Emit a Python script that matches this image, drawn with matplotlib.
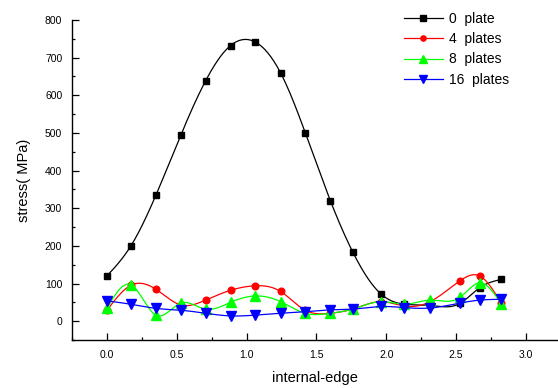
import matplotlib
matplotlib.use("Agg")
import matplotlib.pyplot as plt
import numpy as np
from matplotlib.ticker import MultipleLocator

plt.rcParams.update({"font.family": ["Liberation Sans", "DejaVu Sans"]})

pos = [0.0, 0.17, 0.35, 0.53, 0.706, 0.885, 1.06, 1.243, 1.42, 1.6, 1.76,
       1.966, 2.13, 2.315, 2.527, 2.67, 2.825]
plate0 = [120, 199, 334, 495, 638, 732, 742, 660, 501, 320, 184, 71, 45, 42, 47, 89, 111]
plate4 = [29, 95, 85, 43, 56, 82, 94, 79, 29, 21, 32, 52, 40, 52, 107, 120, 47]
plate8 = [34, 97, 16, 48, 32, 50, 67, 52, 21, 21, 32, 52, 45, 56, 63, 102, 45]
plate16 = [54, 45, 34, 29, 21, 14, 16, 21, 25, 30, 32, 39, 36, 35, 48, 56, 58]
labels = ["0  plate", "4  plates", "8  plates", "16  plates"]


def smooth(x, y, n=400):
    # natural cubic spline through the measured points (Origin-style line)
    x = np.asarray(x, float); y = np.asarray(y, float)
    h = np.diff(x); m = len(x)
    A = np.zeros((m, m)); r = np.zeros(m)
    A[0, 0] = A[-1, -1] = 1
    for i in range(1, m - 1):
        A[i, i - 1] = h[i - 1]; A[i, i] = 2 * (h[i - 1] + h[i]); A[i, i + 1] = h[i]
        r[i] = 6 * ((y[i + 1] - y[i]) / h[i] - (y[i] - y[i - 1]) / h[i - 1])
    M = np.linalg.solve(A, r)
    xs = np.linspace(x[0], x[-1], n)
    k = np.clip(np.searchsorted(x, xs) - 1, 0, m - 2)
    t0 = x[k + 1] - xs; t1 = xs - x[k]
    ys = (M[k] * t0 ** 3 + M[k + 1] * t1 ** 3) / (6 * h[k]) \
        + (y[k] / h[k] - M[k] * h[k] / 6) * t0 + (y[k + 1] / h[k] - M[k + 1] * h[k] / 6) * t1
    return xs, ys


fig = plt.figure(figsize=(5.58, 3.88), dpi=100)
ax = fig.add_axes([72 / 558, 48 / 388, 486 / 558, 320 / 388])

styles = [("black", "s", 4.8), ("#ff0000", "o", 4.8), ("#00ff00", "^", 6.5), ("#0000ff", "v", 6.5)]
for ys, lab, (c, mk, ms) in zip([plate0, plate4, plate8, plate16], labels, styles):
    sx, sy = smooth(pos, ys)
    ax.plot(sx, sy, "-", color=c, lw=0.9)
    ax.plot(pos, ys, mk, color=c, ms=ms, lw=0)
    ax.plot([], [], "-" + mk, color=c, ms=ms - 1, lw=0.9, label=lab)

ax.set_xlim(-0.25, 3.23)
ax.set_ylim(-50, 800)
ax.xaxis.set_major_locator(MultipleLocator(0.5)); ax.xaxis.set_minor_locator(MultipleLocator(0.25))
ax.yaxis.set_major_locator(MultipleLocator(100)); ax.yaxis.set_minor_locator(MultipleLocator(50))
ax.set_yticks(np.arange(0, 801, 100))
ax.xaxis.set_major_formatter(matplotlib.ticker.FormatStrFormatter("%.1f"))
ax.tick_params(which="major", direction="in", length=5, width=0.9, labelsize=7.5, pad=7)
ax.tick_params(which="minor", direction="in", length=2.5, width=0.9)
for s in ["top", "right"]:
    ax.spines[s].set_visible(False)
for s in ["left", "bottom"]:
    ax.spines[s].set_linewidth(1.0)

ax.set_xlabel("internal-edge", fontsize=10.5, labelpad=8)
ax.set_ylabel("stress( MPa)", fontsize=10.5, labelpad=10)
ax.legend(loc="upper left", bbox_to_anchor=(404 / 558, 1 - 12 / 388), bbox_transform=fig.transFigure,
          frameon=False, fontsize=10, handlelength=2.8, handletextpad=0.45, labelspacing=0.45,
          borderaxespad=0, borderpad=0)

fig.savefig("out.png", dpi=100)
